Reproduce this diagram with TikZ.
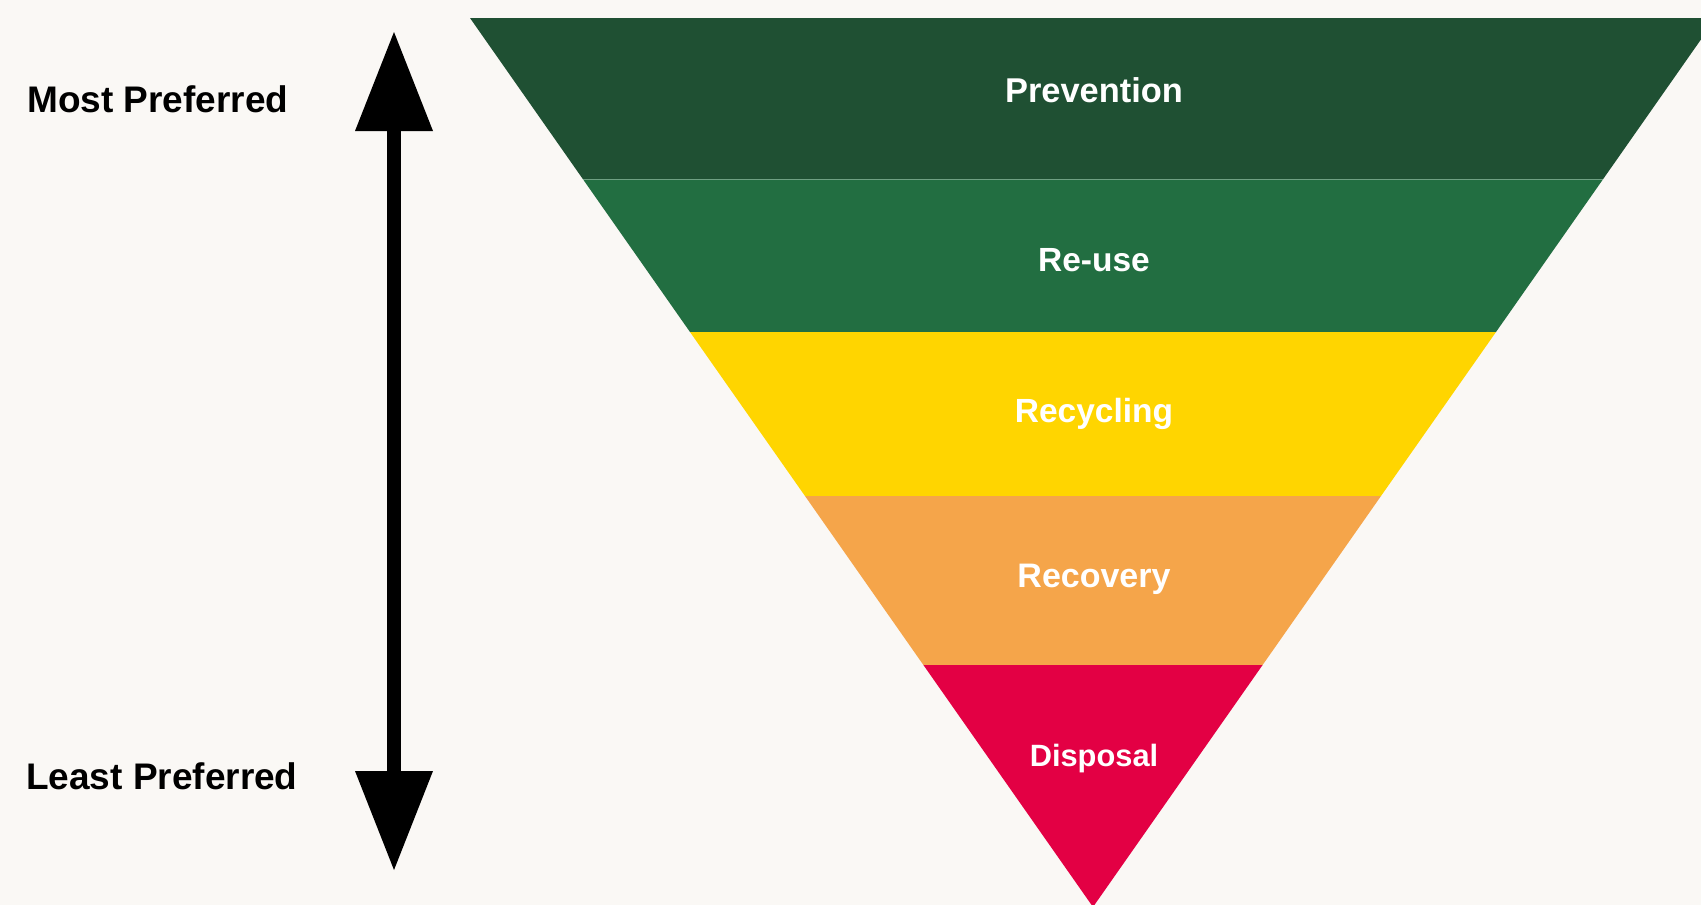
\documentclass[tikz,border=0pt]{standalone}
\usepackage{fontspec}
\setmainfont{Liberation Sans}
\usetikzlibrary{arrows.meta}
\definecolor{bg}{HTML}{FAF8F5}
\definecolor{cprev}{HTML}{1F5033}
\definecolor{creuse}{HTML}{226E41}
\definecolor{crecy}{HTML}{FFD500}
\definecolor{creco}{HTML}{F5A54A}
\definecolor{cdisp}{HTML}{E30044}
\newcommand{\fsz}[1]{\fontsize{#1}{#1}\selectfont\bfseries}
\tikzset{
  bandlabel/.style={text=white, anchor=base, inner sep=0pt},
  sidelabel/.style={text=black, font=\fsz{37}, anchor=base west, inner sep=0pt},
  prefarrow/.style={line width=14pt, {Triangle[width=78pt,length=99pt,line width=0pt]}-{Triangle[width=78pt,length=99pt,line width=0pt]}}
}
\begin{document}
\begin{tikzpicture}[x=1pt,y=-1pt]
\useasboundingbox (0,0) rectangle (1701,905);
\fill[bg] (0,0) rectangle (1701,905);
\clip (0,0) rectangle (1701,905);
% bands
\fill[cprev]  (470,18) -- (1716,18) -- (1603.2,179) -- (582.8,179) -- cycle;
\fill[creuse] (582.8,179) -- (1603.2,179) -- (1496,332) -- (690,332) -- cycle;
\fill[crecy]  (690,332) -- (1496,332) -- (1381,496) -- (805,496) -- cycle;
\fill[creco]  (805,496) -- (1381,496) -- (1262.6,665) -- (923.4,665) -- cycle;
\fill[cdisp]  (923.4,665) -- (1262.6,665) -- (1093,907) -- cycle;
% thin separator
\draw[white, opacity=0.35, line width=1pt] (582.8,179) -- (1603.2,179);
% labels
\node[bandlabel, font=\fsz{34.4}] (prev) at (1094,102) {Prevention};
\node[bandlabel, font=\fsz{33.5}] (reuse) at (1094,271) {Re-use};
\node[bandlabel, font=\fsz{33.5}] (recy) at (1094,422) {Recycling};
\node[bandlabel, font=\fsz{34}] (reco) at (1094,587) {Recovery};
\node[bandlabel, font=\fsz{30.8}] (disp) at (1094,766) {Disposal};
% side labels
\node[sidelabel] (most) at (27,112) {Most Preferred};
\node[sidelabel] (least) at (26,789) {Least Preferred};
% arrow
\coordinate (atop) at (394,32);
\coordinate (abot) at (394,870);
\draw[prefarrow] (atop) -- (abot);
\end{tikzpicture}
\end{document}
